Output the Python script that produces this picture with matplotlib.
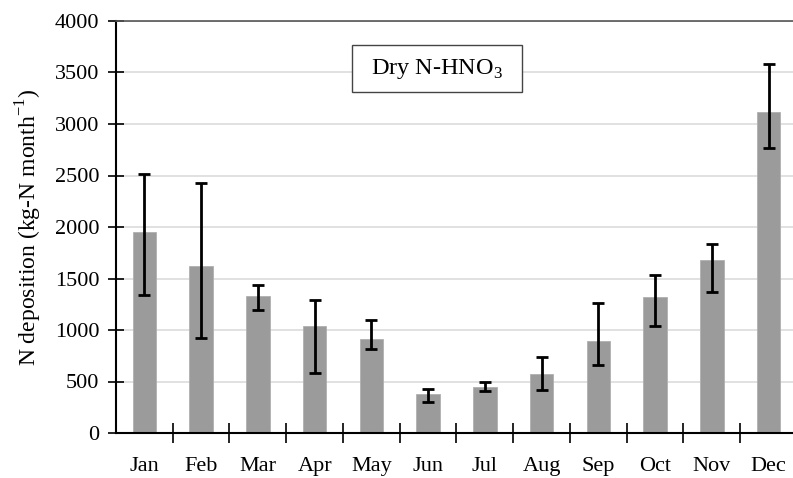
import matplotlib
matplotlib.use("Agg")
import matplotlib.pyplot as plt
from matplotlib.patches import Rectangle
import numpy as np

months = ["Jan", "Feb", "Mar", "Apr", "May", "Jun", "Jul", "Aug", "Sep", "Oct", "Nov", "Dec"]
values = [1949, 1624, 1333, 1042, 916, 376, 450, 570, 896, 1323, 1683, 3113]
err_low = [1340, 925, 1191, 580, 813, 304, 408, 417, 663, 1039, 1372, 2767]
err_high = [2518, 2424, 1434, 1291, 1097, 427, 495, 741, 1262, 1534, 1838, 3580]
yticks = [0, 500, 1000, 1500, 2000, 2500, 3000, 3500, 4000]

plt.rcParams['font.family'] = ['Liberation Serif', 'DejaVu Serif']

fig = plt.figure(figsize=(7.93, 4.78), dpi=100)
ax = fig.add_axes([116/793, 1-433/478, 681/793, 412/478])

x = np.arange(len(months))
vals = np.array(values)
yerr = np.array([vals - np.array(err_low), np.array(err_high) - vals])

ax.bar(x, vals, width=0.41, color='#9b9b9b', edgecolor='#b0b0b0', linewidth=0.6, zorder=2)
ax.errorbar(x, vals, yerr=yerr, fmt='none', ecolor='black', elinewidth=2,
            capsize=4.5, capthick=2, zorder=3)

ax.set_xlim(-0.5, 11.5)
ax.set_ylim(0, 4000)
ax.set_yticks(yticks)
ax.set_yticklabels([str(t) for t in yticks], fontsize=16)
ax.yaxis.grid(True, color='#dcdcdc', linewidth=1.2, zorder=0)
ax.set_axisbelow(True)

ax.set_xticks(x)
ax.set_xticklabels(months, fontsize=16)
ax.set_xticks(np.arange(0.5, 11.5, 1), minor=True)
ax.tick_params(axis='x', which='major', length=0, pad=17)
ax.tick_params(axis='x', which='minor', direction='inout', length=15, width=1.2)
ax.tick_params(axis='y', direction='inout', length=11, width=1.2, pad=6.5)

for s in ['left', 'bottom']:
    ax.spines[s].set_linewidth(1.5)
ax.spines['top'].set_color('#555555')
ax.spines['top'].set_linewidth(1.2)
ax.spines['right'].set_visible(False)

ax.set_ylabel("N deposition (kg-N month$^{\\mathregular{-1}}$)", fontsize=17, labelpad=8)

ax.add_patch(Rectangle((3.66, 3311), 3.0, 456, facecolor='white', edgecolor='#444444',
                       linewidth=1.0, zorder=5))
ax.text(5.16, 3530, "Dry N-HNO$_{\\mathregular{3}}$", fontsize=17.5, ha='center', va='center',
        zorder=6)

fig.savefig("out.png", dpi=100)
